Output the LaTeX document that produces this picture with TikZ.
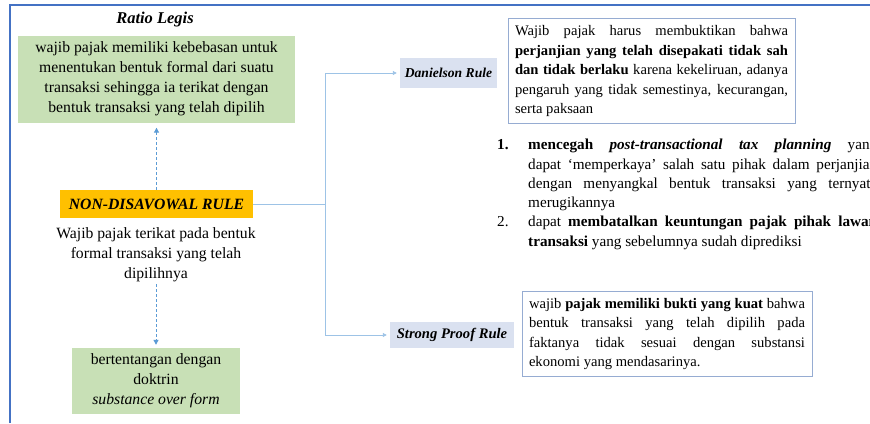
\documentclass[tikz,border=0pt]{standalone}
\usepackage{fontspec}
\setmainfont{Liberation Serif}
\usetikzlibrary{positioning,arrows.meta}

\definecolor{frameblue}{RGB}{68,114,196}
\definecolor{legisgreen}{RGB}{200,224,182}
\definecolor{ruleorange}{RGB}{255,192,0}
\definecolor{rulegray}{RGB}{218,225,240}
\definecolor{descline}{RGB}{150,172,210}
\definecolor{linkblue}{RGB}{157,195,230}
\definecolor{dashblue}{RGB}{91,155,213}

\newcommand{\diagfont}{\fontsize{14.6}{19.5}\selectfont}
\newcommand{\leftfont}{\fontsize{15.7}{20}\selectfont}
\newcommand{\listfont}{\fontsize{15.2}{19.3}\selectfont}

\tikzset{
  greenbox/.style={fill=legisgreen, align=center, inner sep=4pt, font=\leftfont},
  keybox/.style={fill=ruleorange, font=\leftfont\bfseries\itshape, minimum width=193, minimum height=28, inner sep=0pt},
  rulebox/.style={fill=rulegray, font=\diagfont\bfseries\itshape, minimum height=28, inner sep=0pt},
  descbox/.style={draw=descline, line width=0.9pt, align=justify, inner sep=7pt},
  link/.style={linkblue, line width=0.9pt},
  linkarrow/.style={link, -{Triangle[length=4pt,width=4pt]}, shorten >=3pt},
  dasharrow/.style={dashblue, line width=1pt, dashed, dash pattern=on 3pt off 2pt, -{Triangle[length=5pt,width=5pt]}}
}

\begin{document}
\begin{tikzpicture}[x=1pt,y=-1pt,font=\diagfont]
  \useasboundingbox (0,0) rectangle (870,423);
  \clip (0,0) rectangle (870,423);

  % frame
  \draw [frameblue, line width=2pt] (10,423) -- (10,5) -- (870,5);

  % Ratio Legis
  \node [font=\fontsize{16.5}{20}\selectfont\bfseries\itshape] (ratio) at (155,20) {Ratio Legis};
  \node [greenbox, minimum width=277, minimum height=87] (legis) at (156.5,79)
    {wajib pajak memiliki kebebasan untuk\\menentukan bentuk formal dari suatu\\transaksi sehingga ia terikat dengan\\bentuk transaksi yang telah dipilih};

  % Non-disavowal rule
  \node [keybox] (ndr) at (156.5,204) {NON-DISAVOWAL RULE};
  \node [align=center, inner sep=2pt, font=\leftfont] (ndrtext) at (156,255)
    {Wajib pajak terikat pada bentuk\\formal transaksi yang telah\\dipilihnya};

  % substance over form
  \node [greenbox, minimum width=168, minimum height=66] (sof) at (156,381)
    {bertentangan dengan\\doktrin\\\textit{substance over form}};

  % dashed arrows
  \draw [dasharrow] (ndr.north) -- ([yshift=-5pt]legis.south);
  \draw [dasharrow] (ndrtext.south) -- ([yshift=3pt]sof.north);

  % rules
  \node [rulebox, minimum width=97, minimum height=30, font=\fontsize{13.6}{16}\selectfont\bfseries\itshape] (dan) at (448.5,73) {Danielson Rule};
  \node [rulebox, minimum width=124, minimum height=26] (spr) at (452,335) {Strong Proof Rule};

  % connectors
  \coordinate (split) at (325,204);
  \draw [link] (ndr.east) -- (split);
  \draw [link] (split |- dan.west) -- (split |- spr.west);
  \draw [linkarrow] (split |- dan.west) -- (dan.west);
  \draw [linkarrow] (split |- spr.west) -- (spr.west);

  % Danielson description
  \node [descbox, text width=273, minimum height=102] (dandesc) at (651.5,71)
    {Wajib pajak harus membuktikan bahwa\linebreak
     \textbf{perjanjian yang telah disepakati tidak sah}\linebreak
     \textbf{dan tidak berlaku} karena kekeliruan, adanya\linebreak
     pengaruh yang tidak semestinya, kecurangan,\linebreak
     serta paksaan};

  % purposes
  \node [anchor=north west, inner sep=0pt, text width=380, align=justify, font=\listfont] (purpose) at (497,139)
    {\hangindent=31pt\hangafter=1\noindent\makebox[31pt][l]{\textbf{1.}}\textbf{mencegah \textit{post-transactional tax planning}} yang\linebreak
     dapat ‘memperkaya’ salah satu pihak dalam perjanjian\linebreak
     dengan menyangkal bentuk transaksi yang ternyata\linebreak
     merugikannya\par
     \hangindent=31pt\hangafter=1\noindent\makebox[31pt][l]{2.}dapat \textbf{membatalkan keuntungan pajak pihak lawan}\linebreak
     \textbf{transaksi} yang sebelumnya sudah diprediksi\par};

  % Strong proof description
  \node [descbox, text width=276, minimum height=84] (sprdesc) at (667,334)
    {wajib \textbf{pajak memiliki bukti yang kuat} bahwa\linebreak
     bentuk transaksi yang telah dipilih pada\linebreak
     faktanya tidak sesuai dengan substansi\linebreak
     ekonomi yang mendasarinya.};
\end{tikzpicture}
\end{document}
